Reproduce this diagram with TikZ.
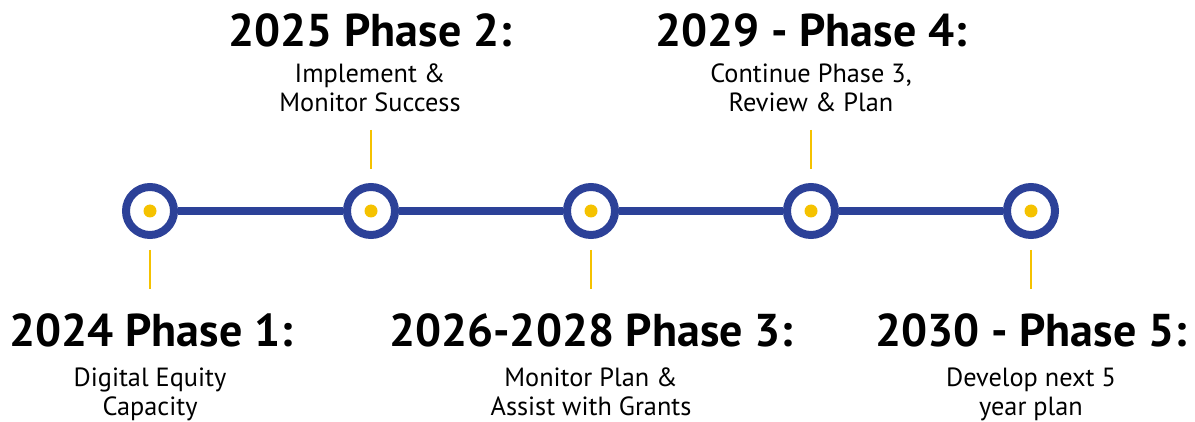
\documentclass[tikz,border=0pt]{standalone}
\usepackage{fontspec}
\setmainfont{PT Sans}
\definecolor{tlblue}{HTML}{2C4198}
\definecolor{tlgold}{HTML}{F5C200}
\begin{document}
\begin{tikzpicture}[x=1pt,y=-1pt,
  ring/.style={circle,draw=tlblue,line width=8pt,fill=white,minimum size=48pt,inner sep=0pt},
  dot/.style={circle,fill=tlgold,minimum size=13pt,inner sep=0pt},
  tick/.style={draw=tlgold,line width=2pt},
  head/.style={anchor=base,inner sep=0pt,font=\fontsize{46}{50}\selectfont\bfseries},
  sub/.style={anchor=base,inner sep=0pt,font=\fontsize{26.3}{28}\selectfont}]
\useasboundingbox (0,0) rectangle (1195,422);
\fill[white] (0,0) rectangle (1195,422);
% timeline
\node[ring] (c1) at (150,211) {};
\node[ring] (c2) at (371,211) {};
\node[ring] (c3) at (591,211) {};
\node[ring] (c4) at (811,211) {};
\node[ring] (c5) at (1031,211) {};
\draw[tlblue,line width=8pt] (c1) -- (c2) (c2) -- (c3) (c3) -- (c4) (c4) -- (c5);
\foreach \i in {1,...,5} {\node[dot] (d\i) at (c\i) {};}
% ticks
\coordinate (t1a) at (150,250); \coordinate (t1b) at (150,289);
\coordinate (t2a) at (371,130); \coordinate (t2b) at (371,169);
\coordinate (t3a) at (591,250); \coordinate (t3b) at (591,289);
\coordinate (t4a) at (811,130); \coordinate (t4b) at (811,169);
\coordinate (t5a) at (1031,250); \coordinate (t5b) at (1031,289);
\foreach \i in {1,...,5} {\draw[tick] (t\i a) -- (t\i b);}
% texts bottom
\node[head] (h1) at (151,346) {2024 Phase 1:};
\node[sub] (s1a) at (150,386) {Digital Equity};
\node[sub] (s1b) at (150,415) {Capacity};
\node[head] (h3) at (591,346) {2026-2028 Phase 3:};
\node[sub] (s3a) at (591,386) {Monitor Plan \&};
\node[sub] (s3b) at (591,415) {Assist with Grants};
\node[head] (h5) at (1031,346) {2030 - Phase 5:};
\node[sub] (s5a) at (1031,386) {Develop next 5};
\node[sub] (s5b) at (1031,415) {year plan};
% texts top
\node[head] (h2) at (370,47) {2025 Phase 2:};
\node[sub] (s2a) at (370,83) {Implement \&};
\node[sub] (s2b) at (370,112) {Monitor Success};
\node[head] (h4) at (811,47) {2029 - Phase 4:};
\node[sub] (s4a) at (811,83) {Continue Phase 3,};
\node[sub] (s4b) at (811,112) {Review \& Plan};
\end{tikzpicture}
\end{document}
